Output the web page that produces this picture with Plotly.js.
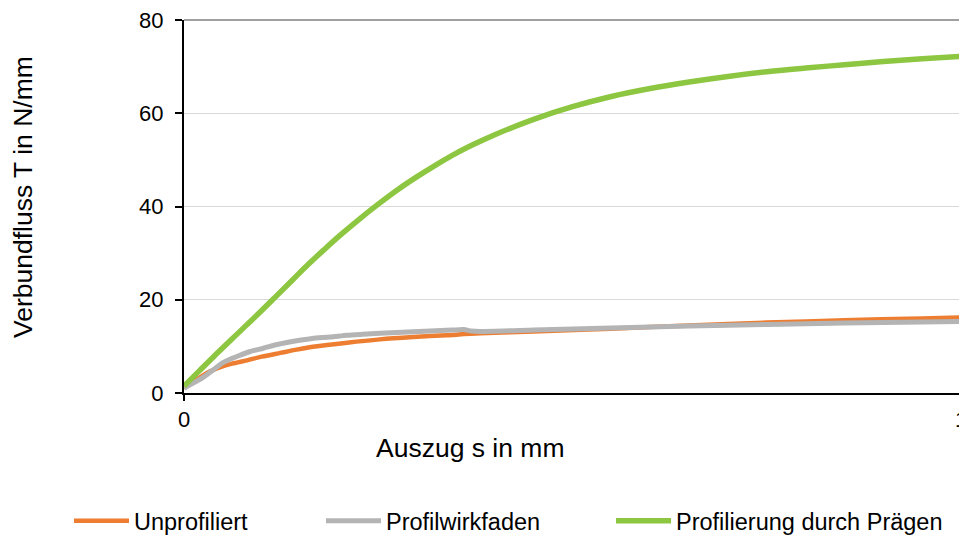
<!DOCTYPE html>
<html>
<head>
<meta charset="utf-8">
<script src="https://cdn.plot.ly/plotly-3.0.1.min.js"></script>
<style>
html, body { margin: 0; padding: 0; overflow: hidden; background: #fff; }
#chart { width: 1000px; height: 535px; }
</style>
</head>
<body>
<div id="chart"></div>
<script>
// Series names
const seriesNames = ["Unprofiliert", "Profilwirkfaden", "Profilierung durch Prägen"];

// Unprofiliert (orange)
const xUnprof = [0, 0.01, 0.021, 0.033, 0.046, 0.062, 0.081, 0.10, 0.124, 0.145, 0.166, 0.21, 0.252, 0.295, 0.338, 0.381, 0.45, 0.55, 0.65, 0.75, 0.85, 0.95, 1.0];
const yUnprof = [1.0, 2.2, 3.4, 4.6, 5.5, 6.3, 7.0, 7.8, 8.6, 9.3, 9.9, 10.8, 11.5, 12.0, 12.4, 12.8, 13.2, 13.8, 14.5, 15.1, 15.6, 16.0, 16.2];

// Profilwirkfaden (gray)
const xWirk = [0, 0.008, 0.017, 0.025, 0.033, 0.042, 0.05, 0.06, 0.072, 0.085, 0.102, 0.12, 0.145, 0.165, 0.188, 0.21, 0.23, 0.274, 0.317, 0.345, 0.36, 0.37, 0.381, 0.45, 0.55, 0.65, 0.75, 0.85, 0.95, 1.0];
const yWirk = [1.0, 1.8, 2.6, 3.4, 4.4, 5.5, 6.5, 7.3, 8.1, 8.9, 9.6, 10.4, 11.2, 11.7, 12.0, 12.4, 12.6, 13.0, 13.3, 13.5, 13.6, 13.3, 13.2, 13.5, 13.95, 14.35, 14.7, 15.0, 15.25, 15.35];

// Profilierung durch Prägen (green)
const xPraeg = [0, 0.02, 0.04, 0.06, 0.08, 0.10, 0.12, 0.14, 0.16, 0.18, 0.20, 0.225, 0.25, 0.275, 0.30, 0.325, 0.35, 0.375, 0.40, 0.45, 0.50, 0.55, 0.60, 0.65, 0.70, 0.75, 0.80, 0.85, 0.90, 0.95, 1.0];
const yPraeg = [1.5, 4.8, 8.1, 11.3, 14.5, 17.7, 21.0, 24.3, 27.6, 30.7, 33.7, 37.2, 40.5, 43.6, 46.4, 49.0, 51.4, 53.5, 55.4, 58.7, 61.4, 63.6, 65.3, 66.7, 67.9, 68.9, 69.7, 70.4, 71.1, 71.7, 72.2];

// Axis ticks
const xTicks = [0, 1];
const xTickText = ["0", "1"];
const yTicks = [0, 20, 40, 60, 80];
const yTickText = ["0", "20", "40", "60", "80"];

const FONT = "Liberation Sans, Arial, sans-serif";

const traces = [
  { x: xUnprof, y: yUnprof, name: seriesNames[0], type: "scatter", mode: "lines",
    line: { color: "#ED7D31", width: 4.5, shape: "spline", smoothing: 0.8 }, legend: "legend" },
  { x: xWirk, y: yWirk, name: seriesNames[1], type: "scatter", mode: "lines",
    line: { color: "#B4B4B4", width: 5, shape: "spline", smoothing: 0.6 }, legend: "legend2" },
  { x: xPraeg, y: yPraeg, name: seriesNames[2], type: "scatter", mode: "lines",
    line: { color: "#8DC641", width: 5.5, shape: "spline", smoothing: 1 }, legend: "legend3" }
];

function leg(xpx) {
  return {
    orientation: "h", x: (xpx - 184) / 777, xanchor: "left",
    y: (393 - 521) / 373, yanchor: "middle",
    font: { family: FONT, size: 23.5, color: "#000" },
    bgcolor: "rgba(0,0,0,0)", borderwidth: 0, itemwidth: 55
  };
}

const layout = {
  width: 1000, height: 535,
  margin: { l: 184, r: 39, t: 20, b: 142, autoexpand: false },
  paper_bgcolor: "#fff", plot_bgcolor: "#fff",
  showlegend: true,
  legend: leg(69), legend2: leg(321), legend3: leg(611),
  xaxis: {
    range: [0, 1], tickvals: xTicks, ticktext: xTickText,
    showgrid: false, zeroline: false,
    showline: true, linecolor: "#000", linewidth: 2,
    ticks: "outside", ticklen: 6, tickwidth: 2, tickcolor: "#000",
    tickfont: { family: FONT, size: 22, color: "#000" }
  },
  yaxis: {
    range: [0, 80], tickvals: yTicks, ticktext: yTickText,
    showgrid: true, gridcolor: "#D9D9D9", gridwidth: 1, zeroline: false,
    showline: true, linecolor: "#000", linewidth: 2,
    ticks: "outside", ticklen: 7, tickwidth: 2, tickcolor: "#000",
    ticklabelstandoff: 7,
    tickfont: { family: FONT, size: 22, color: "#000" }
  },
  shapes: [
    { type: "line", xref: "paper", yref: "paper", x0: 0, x1: 1.05, y0: 1, y1: 1,
      line: { color: "#A0A0A0", width: 2 } }
  ],
  annotations: [
    { text: "Auszug s in mm", xref: "paper", yref: "paper",
      x: (470 - 184) / 777, y: (393 - 448) / 373, xanchor: "center", yanchor: "middle",
      showarrow: false, font: { family: FONT, size: 26.5, color: "#000" } },
    { text: "Verbundfluss T in N/mm", xref: "paper", yref: "paper", textangle: -90,
      x: (23 - 184) / 777, y: (393 - 197) / 373, xanchor: "center", yanchor: "middle",
      showarrow: false, font: { family: FONT, size: 26.5, color: "#000" } }
  ]
};

Plotly.newPlot("chart", traces, layout, { displayModeBar: false, staticPlot: true });
</script>
</body>
</html>
